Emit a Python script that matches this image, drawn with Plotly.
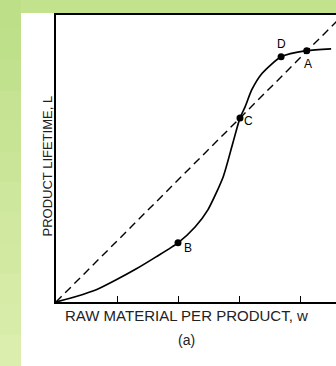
import plotly.graph_objects as go

# Curve L(w) (axis units: tick spacing = 1)
curve_w = [0.0, 0.33, 0.66, 0.98, 1.31, 1.64, 2.0, 2.28, 2.49, 2.74, 2.90, 3.016, 3.10, 3.21, 3.38, 3.69, 4.11, 4.51]
curve_L = [0.0, 0.09, 0.20, 0.36, 0.54, 0.74, 0.97, 1.23, 1.51, 2.05, 2.61, 3.016, 3.20, 3.48, 3.75, 4.02, 4.12, 4.15]

# Diagonal reference line L = w
diag_w = [0.0, 4.7]
diag_L = [0.0, 4.7]

# Labelled points
pt_names = ["B", "C", "D", "A"]
pt_w = [2.0, 3.016, 3.69, 4.11]
pt_L = [0.97, 3.016, 4.02, 4.12]

x_ticks = [1, 2, 3, 4]
x_title = "RAW MATERIAL PER PRODUCT, w"
y_title = "PRODUCT LIFETIME, L"
sub_title = "(a)"

W, H = 336, 366
ML, MR, MT, MB = 56, 0, 15, 64
PW, PH = W - ML - MR, H - MT - MB


def px(x):
    return (x - ML) / PW


def py(y):
    return (H - MB - y) / PH


fig = go.Figure()
fig.add_trace(go.Scatter(x=diag_w, y=diag_L, mode="lines",
                         line=dict(color="black", width=1.4, dash="8px,5px"),
                         hoverinfo="skip", showlegend=False))
fig.add_trace(go.Scatter(x=curve_w, y=curve_L, mode="lines",
                         line=dict(color="black", width=1.7, shape="spline", smoothing=0.6),
                         showlegend=False))
fig.add_trace(go.Scatter(x=pt_w, y=pt_L, mode="markers",
                         marker=dict(color="black", size=7),
                         showlegend=False))

fam = "Liberation Sans, Arial, sans-serif"

# white picture area on green background strips
shapes = [dict(type="rect", xref="paper", yref="paper", layer="below",
               x0=px(21), x1=px(W + 5), y0=py(13), y1=py(H + 5),
               fillcolor="white", line=dict(width=0))]
# gradient in left strip
n = 12
for i in range(n):
    t = i / (n - 1)
    r = int(0xbd + (0xdb - 0xbd) * t)
    g = int(0xdf + (0xee - 0xdf) * t)
    b = int(0x88 + (0xad - 0x88) * t)
    shapes.append(dict(type="rect", xref="paper", yref="paper", layer="below",
                       x0=px(-2), x1=px(21), y0=py(H * i / n - 1), y1=py(H * (i + 1) / n + 1),
                       fillcolor=f"rgb({r},{g},{b})", line=dict(width=0)))

label_offsets = {"B": (10, -5), "C": (9, -3), "D": (0, 13), "A": (1, -13)}
annotations = []
for name, w, L in zip(pt_names, pt_w, pt_L):
    dx, dy = label_offsets[name]
    annotations.append(dict(x=w, y=L, text=name, showarrow=False, xshift=dx, yshift=dy,
                            font=dict(family=fam, size=12, color="black")))
annotations += [
    dict(x=px(186), y=py(326), xref="paper", yref="paper", text=x_title, showarrow=False,
         font=dict(family=fam, size=15, color="#222")),
    dict(x=px(186), y=py(350), xref="paper", yref="paper", text=sub_title, showarrow=False,
         font=dict(family=fam, size=14, color="#222")),
    dict(x=px(37), y=py(166), xref="paper", yref="paper", text=y_title, showarrow=False,
         textangle=-90, font=dict(family=fam, size=13, color="#222")),
]

fig.update_layout(
    width=W, height=H,
    margin=dict(l=ML, r=MR, t=MT, b=MB, pad=0),
    paper_bgcolor="#c2e28e",
    plot_bgcolor="white",
    shapes=shapes,
    annotations=annotations,
    xaxis=dict(range=[0, PW / 61], tickvals=x_ticks, ticks="inside", ticklen=6, tickwidth=1.3,
               tickcolor="black", showticklabels=False, showgrid=False, zeroline=False,
               showline=True, linecolor="black", linewidth=1.5, mirror=True, fixedrange=True),
    yaxis=dict(range=[0, PH / 61], showticklabels=False, ticks="", showgrid=False, zeroline=False,
               showline=True, linecolor="black", linewidth=1.5, fixedrange=True),
)

fig.write_html("out.html", config={"displayModeBar": False},
               post_script="document.body.style.margin='0';document.body.style.overflow='hidden';")
